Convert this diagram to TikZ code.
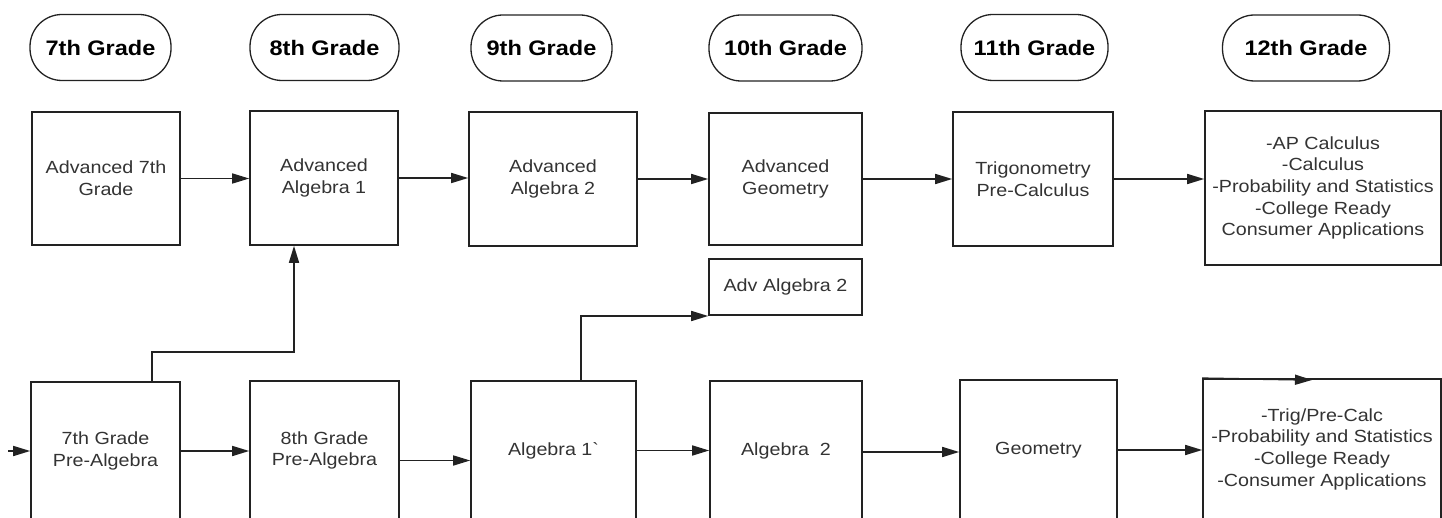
\documentclass[tikz,border=0pt]{standalone}
\usepackage{fontspec}
\setmainfont{Liberation Sans}[FakeStretch=1.12]
\newfontfamily\rawfont{Liberation Sans}[FakeStretch=1.12]
\usetikzlibrary{arrows.meta}
\definecolor{ink}{HTML}{222222}
\definecolor{txt}{HTML}{333333}
\tikzset{
  box/.style={draw=ink, line width=1.6pt, rectangle, inner sep=2pt, align=center,
    font=\fontsize{17.6}{21.7}\selectfont, text=txt},
  pill/.style={draw=ink, line width=1.3pt, rounded corners=32pt, align=center,
    font=\fontsize{21}{24}\selectfont\bfseries, text=black, minimum height=66},
  arr/.style={draw=ink, line width=1.6pt, -{Triangle[length=17pt,width=10pt]}},
  link/.style={draw=ink, line width=1.6pt}
}
\begin{document}
\begin{tikzpicture}[x=1pt,y=-1pt]
\useasboundingbox (0,0) rectangle (1442,518);
% grade headings
\node[pill, minimum width=141] (g7)  at (100.5,47.5) {7th Grade};
\node[pill, minimum width=149] (g8)  at (324.5,47.5) {8th Grade};
\node[pill, minimum width=141] (g9)  at (541.5,48) {9th Grade};
\node[pill, minimum width=153] (g10) at (785.5,48) {10th Grade};
\node[pill, minimum width=147] (g11) at (1034.5,47.5) {11th Grade};
\node[pill, minimum width=167] (g12) at (1306,48) {12th Grade};
% top row
\node[box, minimum width=148, minimum height=133] (a7)  at (106,178.5) {Advanced 7th\\Grade};
\node[box, minimum width=148, minimum height=134] (aa1) at (324,178) {Advanced\\Algebra 1};
\node[box, minimum width=168, minimum height=134] (aa2) at (553,179) {Advanced\\Algebra 2};
\node[box, minimum width=153, minimum height=132] (ag)  at (785.5,179) {Advanced\\Geometry};
\node[box, minimum width=160, minimum height=134] (tr)  at (1033,179) {Trigonometry\\Pre-Calculus};
\node[box, minimum width=236, minimum height=154] (t12) at (1323,188) {-AP Calculus\\-Calculus\\-Probability and Statistics\\-College Ready\\Consumer Applications};
% middle small box
\node[box, minimum width=153, minimum height=56] (sm) at (785.5,287) {Adv Algebra 2};
% bottom row
\node[box, minimum width=149, minimum height=138] (p7)  at (105.5,451) {7th Grade\\Pre-Algebra};
\node[box, minimum width=149, minimum height=139] (p8)  at (324.5,450.5) {8th Grade\\Pre-Algebra};
\node[box, minimum width=165, minimum height=139] (a1b) at (553.5,450.5) {Algebra 1{\rawfont `}};
\node[box, minimum width=152, minimum height=139] (al2) at (786,450.5) {Algebra\ \ 2};
\node[box, minimum width=157, minimum height=140] (geo) at (1038.5,450) {Geometry};
\node[box, minimum width=238, minimum height=140] (b12) at (1322,449) {-Trig/Pre-Calc\\-Probability and Statistics\\-College Ready\\-Consumer Applications};
% helper coordinates
\coordinate (lin) at (8,451);
\coordinate (p7up) at (152,352);
\coordinate (p7turn) at (294,352);
\coordinate (a1up) at (581,316);
\coordinate (b12mid) at (1312,380);
% top row arrows
\draw[arr] (a7.east) -- (a7.east -| aa1.west);
\draw[arr] (aa1.east) -- (aa1.east -| aa2.west);
\draw[arr] (aa2.east) -- (aa2.east -| ag.west);
\draw[arr] (ag.east) -- (ag.east -| tr.west);
\draw[arr] (tr.east) -- (tr.east -| t12.west);
% bottom row arrows
\draw[arr] (lin) -- (lin -| p7.west);
\draw[arr] (p7.east) -- (p7.east -| p8.west);
\draw[arr] ([yshift=-10pt]p8.east) -- ([yshift=-10pt]p8.east -| a1b.west);
\draw[arr] (a1b.east) -- (a1b.east -| al2.west);
\draw[arr] ([yshift=-1.5pt]al2.east) -- ([yshift=-1.5pt]al2.east -| geo.west);
\draw[arr] (geo.east) -- (geo.east -| b12.west);
\draw[arr] (b12.north west) -- (b12mid);
% branching connectors
\draw[arr] (p7.north -| p7up) -- (p7up) -- (p7turn) -- (p7turn |- aa1.south);
\draw[arr] (a1b.north -| a1up) -- (a1up) -- (a1up -| sm.west);
\end{tikzpicture}
\end{document}
